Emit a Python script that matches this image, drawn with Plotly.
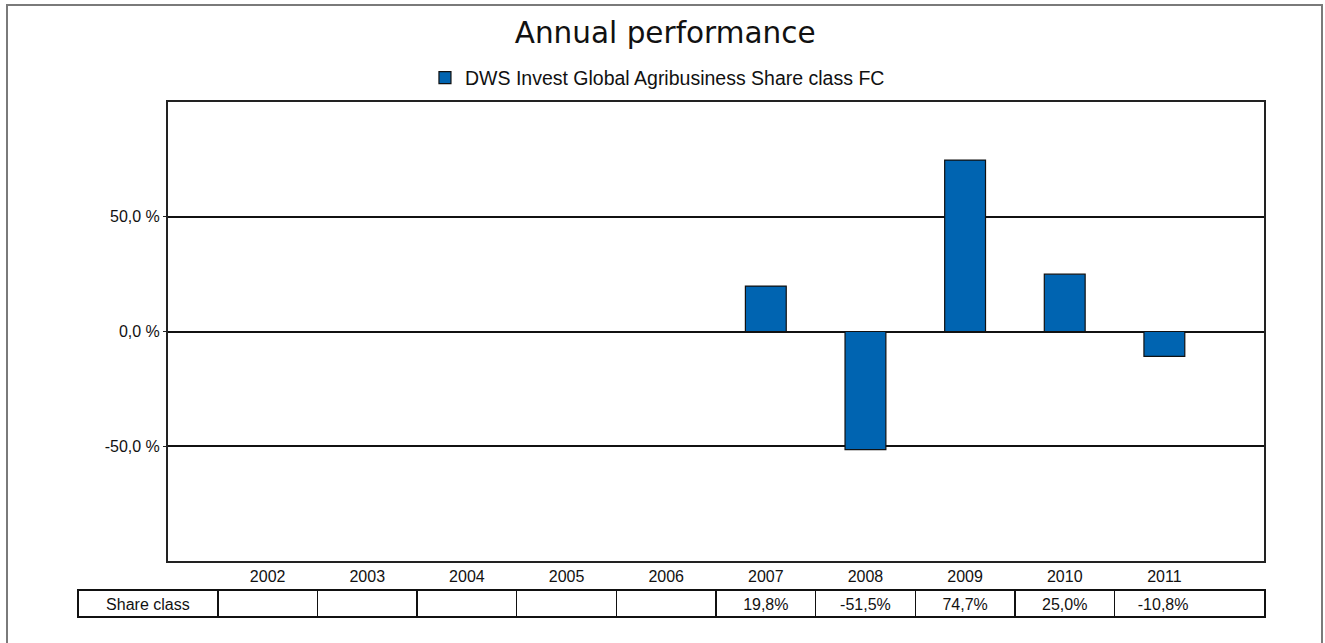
import plotly.graph_objects as go

# ---- data ----
years = ["2002", "2003", "2004", "2005", "2006", "2007", "2008", "2009", "2010", "2011"]
returns = [None, None, None, None, None, 19.8, -51.5, 74.7, 25.0, -10.8]
series_name = "DWS Invest Global Agribusiness Share class FC"
row_label = "Share class"
y_tickvals = [-50, 0, 50]
y_ticktext = ["-50,0 %", "0,0 %", "50,0 %"]
title_text = "Annual performance"

# ---- layout geometry (pixels) ----
W, H = 1325, 643
PL, PR, PT, PB = 168, 1264, 102, 561
TBL_L, TBL_R, TBL_T = 78, 1265, 590
ROW_H = 27
BAR_COLOR = "#0064B1"
FONT = "Liberation Sans, Arial, sans-serif"

slot = (PR - PL) / (len(years) + 1)

def fmt(v):
    if v is None:
        return ""
    return f"{v:.1f}".replace(".", ",") + "%"

cells = [row_label] + [fmt(v) for v in returns]
# the last column is wider (it also covers the empty slot) - keep the value under its year
cells[-1] = cells[-1] + "\u00a0" * 12 if cells[-1] else cells[-1]

first_w = PL + slot / 2 - TBL_L
last_w = TBL_R - (PL + slot * (len(years) - 0.5))
col_widths = [first_w] + [slot] * (len(years) - 1) + [last_w]

fig = go.Figure()

fig.add_trace(go.Bar(
    x=years, y=returns, name=series_name,
    marker=dict(color=BAR_COLOR, line=dict(color="#111111", width=1.2)),
    width=0.41, xaxis="x", yaxis="y",
))

fig.add_trace(go.Table(
    domain=dict(x=[TBL_L / W, TBL_R / W], y=[0, (H - TBL_T) / H]),
    columnwidth=col_widths,
    header=dict(
        values=cells, height=ROW_H, align="center",
        fill=dict(color="white"), line=dict(color="#111111", width=1.5),
        font=dict(family=FONT, size=16, color="#111111"),
    ),
    cells=dict(values=[[] for _ in cells], height=ROW_H,
               line=dict(color="white", width=0), fill=dict(color="white")),
))

fig.update_layout(
    width=W, height=H,
    margin=dict(l=0, r=0, t=0, b=0),
    paper_bgcolor="white", plot_bgcolor="white",
    showlegend=True,
    title=dict(text=title_text, x=0.502, xanchor="center", xref="paper",
               y=(H - 33) / H, yanchor="middle", yref="paper",
               font=dict(family="DejaVu Sans", size=29.5, color="#111111")),
    legend=dict(orientation="h", x=0.4962, xanchor="center", y=(H - 78) / H,
                yanchor="middle", font=dict(family=FONT, size=19.5, color="#111111"),
                bgcolor="rgba(0,0,0,0)"),
    xaxis=dict(domain=[PL / W, PR / W], type="category", categoryorder="array",
               categoryarray=years, range=[-1, len(years)],
               showgrid=False, zeroline=False,
               showline=True, linecolor="#222222", linewidth=2, mirror=True,
               ticks="",
               tickfont=dict(family=FONT, size=16, color="#111111")),
    yaxis=dict(domain=[(H - PB) / H, (H - PT) / H], range=[-100, 100],
               tickvals=y_tickvals, ticktext=y_ticktext,
               showgrid=True, gridcolor="#111111", gridwidth=1.5,
               zeroline=True, zerolinecolor="#111111", zerolinewidth=1.5,
               showline=True, linecolor="#222222", linewidth=2, mirror=True,
               ticks="outside", ticklen=3, tickcolor="#222222",
               tickfont=dict(family=FONT, size=16, color="#111111")),
    shapes=[dict(type="rect", xref="paper", yref="paper",
                 x0=7 / W, x1=1322 / W, y0=-0.05, y1=(H - 5) / H,
                 line=dict(color="#7a7a7a", width=2), fillcolor="rgba(0,0,0,0)",
                 layer="below")],
    bargap=0.59,
)

fig.write_html(
    "out.html",
    config={"displayModeBar": False},
    post_script="document.body.style.margin='0';document.body.style.overflow='hidden';",
)
